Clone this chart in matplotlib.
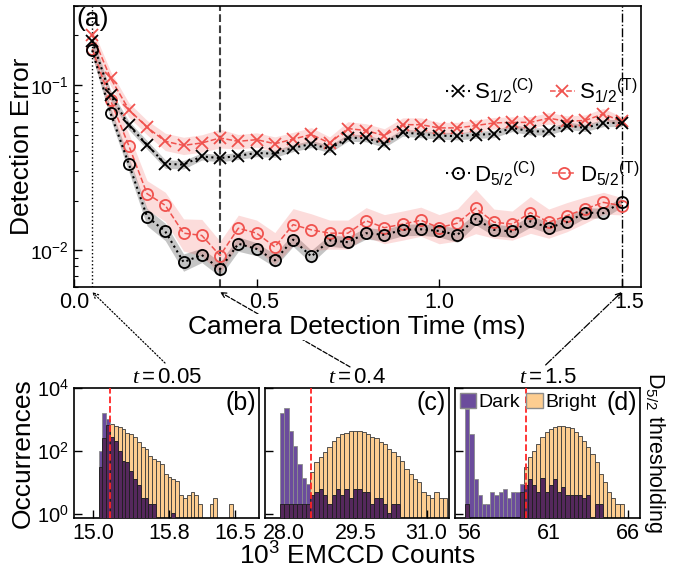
"""Detection error vs camera time, with three EMCCD count histograms."""

import matplotlib
matplotlib.use("Agg")
import matplotlib.pyplot as plt
import matplotlib.ticker as mticker
import numpy as np
from matplotlib.patches import ConnectionPatch, Patch
from matplotlib.transforms import ScaledTranslation

plt.rcParams["font.family"] = ["Liberation Sans", "DejaVu Sans"]
plt.rcParams["mathtext.fontset"] = "custom"
plt.rcParams["mathtext.rm"] = "Liberation Sans"
plt.rcParams["mathtext.it"] = "Liberation Serif:italic"
plt.rcParams["mathtext.bf"] = "Liberation Sans:bold"
plt.rcParams["axes.linewidth"] = 1.2
plt.rcParams["xtick.direction"] = "in"
plt.rcParams["ytick.direction"] = "in"

# --- panel (a): detection error vs camera detection time (ms) ---
t_ms = [0.05, 0.10, 0.15, 0.20, 0.25, 0.30, 0.35, 0.40, 0.45, 0.50,
        0.55, 0.60, 0.65, 0.70, 0.75, 0.80, 0.85, 0.90, 0.95, 1.00,
        1.05, 1.10, 1.15, 1.20, 1.25, 1.30, 1.35, 1.40, 1.45, 1.50]

s_c = [0.184, 0.087, 0.057, 0.0435, 0.0333, 0.0330, 0.0370, 0.0361, 0.0373, 0.0388,
       0.0384, 0.0416, 0.0440, 0.0410, 0.0480, 0.0477, 0.0441, 0.0516, 0.0505, 0.0494,
       0.0490, 0.0500, 0.0505, 0.0550, 0.0524, 0.0524, 0.0568, 0.0550, 0.0589, 0.0589]
s_t = [0.201, 0.110, 0.071, 0.0555, 0.0456, 0.0431, 0.0446, 0.0478, 0.0456, 0.0467,
       0.0441, 0.0470, 0.0502, 0.0445, 0.0545, 0.0530, 0.0494, 0.0575, 0.0575, 0.0550,
       0.0550, 0.0568, 0.0589, 0.0594, 0.0594, 0.0630, 0.0602, 0.0610, 0.0668, 0.0602]
d_c = [0.162, 0.0676, 0.0333, 0.0160, 0.0130, 0.00849, 0.00937, 0.00771, 0.01096, 0.0102,
       0.00869, 0.0116, 0.00918, 0.0115, 0.0112, 0.0127, 0.0124, 0.0133, 0.0134, 0.0131,
       0.0124, 0.0155, 0.0133, 0.0130, 0.0150, 0.0137, 0.0148, 0.0169, 0.0168, 0.0196]
d_t = [0.165, 0.0807, 0.0430, 0.0220, 0.0187, 0.0127, 0.0123, 0.0093, 0.0136, 0.0127,
       0.0105, 0.0143, 0.0133, 0.0127, 0.0127, 0.0151, 0.0137, 0.0144, 0.0152, 0.0137,
       0.0146, 0.0180, 0.0148, 0.0144, 0.0169, 0.0148, 0.0162, 0.0178, 0.0195, 0.0186]

# relative half-widths of the shaded uncertainty bands
s_c_err = [0.08, 0.07, 0.06, 0.06, 0.06, 0.06, 0.05, 0.05, 0.05, 0.05,
           0.05, 0.05, 0.05, 0.05, 0.05, 0.05, 0.05, 0.05, 0.05, 0.05,
           0.05, 0.05, 0.05, 0.05, 0.05, 0.05, 0.05, 0.05, 0.05, 0.05]
s_t_err = [0.10, 0.10, 0.10, 0.10, 0.12, 0.12, 0.12, 0.13, 0.10, 0.10,
           0.10, 0.10, 0.10, 0.09, 0.10, 0.10, 0.10, 0.10, 0.10, 0.08,
           0.08, 0.08, 0.08, 0.08, 0.08, 0.08, 0.08, 0.08, 0.08, 0.07]
d_c_err = [0.08, 0.08, 0.10, 0.12, 0.12, 0.12, 0.10, 0.10, 0.10, 0.09,
           0.09, 0.09, 0.09, 0.08, 0.08, 0.08, 0.08, 0.08, 0.08, 0.08,
           0.10, 0.08, 0.08, 0.08, 0.08, 0.08, 0.08, 0.07, 0.07, 0.07]
d_t_err = [0.10, 0.15, 0.18, 0.20, 0.20, 0.22, 0.25, 0.22, 0.20, 0.20,
           0.22, 0.25, 0.25, 0.20, 0.20, 0.20, 0.20, 0.20, 0.20, 0.20,
           0.22, 0.30, 0.20, 0.20, 0.25, 0.20, 0.20, 0.18, 0.15, 0.12]

# times at which the histograms below were taken
hist_times = [0.05, 0.4, 1.5]

# --- panels (b)-(d): EMCCD counts (10^3), bins given by left edge + width ---
b_left, b_width = 15.06, 0.0404
b_dark = [100, 1600, 1000, 265, 210, 100, 48, 43, 23, 13, 8, 3, 3, 2, 2, 0, 0, 0,
          0, 1, 0, 0, 0, 0, 0, 0, 0, 0, 0, 0, 0, 0, 0, 0, 0, 0]
b_bright = [30, 250, 650, 700, 620, 550, 490, 380, 337, 265, 185, 128, 113, 70, 55,
            48, 38, 18, 15, 13, 11, 4, 3, 4, 5, 4, 2, 0, 0, 2, 3, 0, 0, 0, 2, 0]
b_thr = 15.18

c_left, c_width = 27.92, 0.090
c_dark = [1630, 2350, 430, 144, 38, 14, 9, 4, 5, 6, 4, 2, 4, 6, 4, 6, 3, 6, 6, 5,
          5, 2, 3, 3, 2, 1, 2, 2, 0, 0, 0, 0, 0, 0, 0, 0, 0, 0, 0]
c_bright = [2, 2, 2, 2, 2, 2, 2, 21, 43, 62, 89, 128, 208, 265, 337, 380, 410, 430,
            430, 400, 337, 265, 246, 185, 163, 113, 89, 70, 48, 26, 18, 13, 10, 5,
            4, 3, 5, 3, 3]
c_thr = 28.57

d_left, d_width = 55.73, 0.2636
d_dark = [2080, 337, 13, 4, 2, 2, 5, 4, 5, 6, 3, 5, 5, 9, 8, 13, 8, 5, 14, 5,
          8, 13, 5, 7, 4, 4, 4, 4, 3, 4, 0, 2, 2, 0, 0, 0, 0, 0]
d_bright = [2, 0, 0, 0, 0, 0, 0, 0, 0, 0, 0, 0, 0, 5, 30, 62, 100, 163, 265, 400,
            490, 550, 600, 600, 580, 510, 400, 300, 208, 128, 79, 43, 18, 10, 5, 3, 2, 2]
d_thr = 59.57

RED = "#f0524e"
DARK = "#6b4c9c"
BRIGHT = "#fdcd90"
OVERLAP = "#55285c"

fig = plt.figure(figsize=(6.97, 5.76), dpi=100)
ax = fig.add_axes([0.1062, 0.5017, 0.8130, 0.4878])

t = np.asarray(t_ms)
curves = [
    (s_c, s_c_err, "k", "0.5", 0.45, "x", ":", r"$\mathregular{S_{1/2}{}^{(C)}}$"),
    (s_t, s_t_err, RED, RED, 0.20, "x", "--", r"$\mathregular{S_{1/2}{}^{(T)}}$"),
    (d_c, d_c_err, "k", "0.5", 0.45, "o", ":", r"$\mathregular{D_{5/2}{}^{(C)}}$"),
    (d_t, d_t_err, RED, RED, 0.20, "o", "--", r"$\mathregular{D_{5/2}{}^{(T)}}$"),
]
handles = []
for vals, err, col, band, alpha, mk, ls, lab in curves:
    v = np.asarray(vals)
    e = np.asarray(err)
    ax.fill_between(t, v * (1 - e), v * (1 + e), color=band, alpha=alpha, lw=0, zorder=1)
    lw = 1.5 if ls == ":" else 1.1
    (h,) = ax.plot(t, v, ls=ls, color=col, lw=lw, marker=mk, ms=8,
                   mfc="none", mec=col, mew=1.3, label=lab,
                   zorder=4 if col == "k" else 3)
    handles.append(h)

for tt, ls, col, lw in zip(hist_times, [":", "--", "-."], ["k", "0.25", "k"], [1.0, 1.5, 1.0]):
    ax.axvline(tt, color=col, ls=ls, lw=lw, zorder=2)

ax.set_yscale("log")
ax.set_ylim(0.006, 0.3)
ax.set_xlim(0, 1.552)
ax.set_xticks([0, 0.5, 1.0, 1.5])
ax.xaxis.set_major_formatter(mticker.FormatStrFormatter("%.1f"))
ax.tick_params(axis="x", labelsize=15.5, length=6, width=1)
ax.tick_params(axis="y", labelsize=14, length=6, width=1)
ax.tick_params(which="minor", length=3, width=0.8)
ax.text(0.004, 0.997, "(a)", transform=ax.transAxes, fontsize=19, ha="left", va="top")

leg_kw = dict(ncol=2, loc="center left", frameon=False, fontsize=16,
              handlelength=1.1, handletextpad=0.2, columnspacing=0.7, borderaxespad=0)
leg1 = ax.legend(handles[:2], [c[-1] for c in curves[:2]], bbox_to_anchor=(0.64, 0.70), **leg_kw)
ax.add_artist(leg1)
ax.legend(handles[2:], [c[-1] for c in curves[2:]], bbox_to_anchor=(0.64, 0.405), **leg_kw)

fig.text(22 / 697, 1 - 146 / 576, "Detection Error", rotation=90, fontsize=19,
         ha="center", va="center")
fig.text(357 / 697, 1 - 327 / 576, "Camera Detection Time (ms)", fontsize=19,
         ha="center", va="center", zorder=5,
         bbox=dict(facecolor="white", edgecolor="none", pad=0.5))

# --- histograms ---
hist_axes_pos = [
    [0.1062, 0.1012, 0.2659, 0.2257],
    [0.3802, 0.1012, 0.2640, 0.2257],
    [0.6528, 0.1012, 0.2654, 0.2257],
]
hist_data = [
    (b_left, b_width, b_dark, b_bright, b_thr, (14.80, 16.756), [15.0, 15.8, 16.5], "%.1f", "(b)"),
    (c_left, c_width, c_dark, c_bright, c_thr, (27.60, 31.47), [28.0, 29.5, 31.0], "%.1f", "(c)"),
    (d_left, d_width, d_dark, d_bright, d_thr, (55.08, 66.77), [56, 61, 66], "%d", "(d)"),
]
arrow_tails = [(0.491, 1.19), (0.462, 1.16), (0.49, 1.175)]
arrow_styles = [":", "--", "-."]

hist_axes = []
for i, (pos, spec) in enumerate(zip(hist_axes_pos, hist_data)):
    left0, width, dark, bright, thr, xlim, xticks, fmt, tag = spec
    axh = fig.add_axes(pos)
    hist_axes.append(axh)
    dark = np.asarray(dark, float)
    bright = np.asarray(bright, float)
    x = left0 + width * np.arange(len(dark))
    axh.bar(x, bright, width, bottom=0.1, align="edge", color=BRIGHT,
            edgecolor="#3a3a3a", lw=0.6, zorder=1)
    axh.bar(x, dark, width, bottom=0.1, align="edge", color=DARK,
            edgecolor="#8c8c8c", lw=0.6, zorder=2)
    axh.bar(x, np.minimum(dark, bright), width, bottom=0.1, align="edge",
            color=OVERLAP, edgecolor="#1e1e1e", lw=0.6, zorder=3)
    axh.axvline(thr, color="#ff2525", ls="--", lw=1.3, zorder=5)

    axh.set_yscale("log")
    axh.set_ylim(0.76, 1e4)
    axh.yaxis.set_major_locator(mticker.FixedLocator([1, 1e2, 1e4]))
    axh.yaxis.set_minor_locator(mticker.NullLocator())
    axh.set_xlim(*xlim)
    axh.set_xticks(xticks)
    axh.xaxis.set_major_formatter(mticker.FormatStrFormatter(fmt))
    axh.tick_params(axis="x", labelsize=15.5, length=6, width=1)
    axh.tick_params(axis="y", labelsize=14.5, length=6, width=1)
    if i > 0:
        axh.tick_params(labelleft=False)
    axh.set_title(f"$t = {hist_times[i]:g}$", fontsize=16, pad=2)
    axh.text(0.985, 0.975, tag, transform=axh.transAxes, fontsize=18, ha="right", va="top")

    cp = ConnectionPatch(xyA=arrow_tails[i], coordsA=axh.transAxes,
                         xyB=(hist_times[i], -0.018), coordsB=ax.get_xaxis_transform(),
                         arrowstyle="->", ls=arrow_styles[i], lw=0.9, color="k",
                         mutation_scale=9, zorder=1)
    fig.add_artist(cp)

hist_axes[2].legend(
    [Patch(facecolor=DARK, edgecolor="0.55"), Patch(facecolor=BRIGHT, edgecolor="0.55")],
    ["Dark", "Bright"], loc="upper left", ncol=2, fontsize=14, frameon=False,
    handlelength=0.85, handleheight=0.85, handletextpad=0.12, columnspacing=0.3,
    borderaxespad=0.1, borderpad=0.15)

fig.text(23 / 697, 1 - 453 / 576, "Occurrences", rotation=90, fontsize=19,
         ha="center", va="center")
fig.text(357 / 697, 1 - 556 / 576, r"$\mathregular{10^3}$ EMCCD Counts", fontsize=19,
         ha="center", va="center")
fig.text(655 / 697, 1 - 452 / 576, r"$\mathregular{D_{5/2}}$ thresholding", rotation=-90,
         fontsize=15.5, ha="center", va="center")

# in the original the 0.5 and 1.5 labels sit a little right of their ticks,
# leaving room for the arrow heads
fig.canvas.draw()
shift = ScaledTranslation(8 / 100, 0, fig.dpi_scale_trans)
for i, tick in enumerate(ax.xaxis.get_major_ticks()):
    if i in (1, 3):
        tick.label1.set_transform(tick.label1.get_transform() + shift)

fig.savefig("out.png", dpi=100)
plt.close(fig)
